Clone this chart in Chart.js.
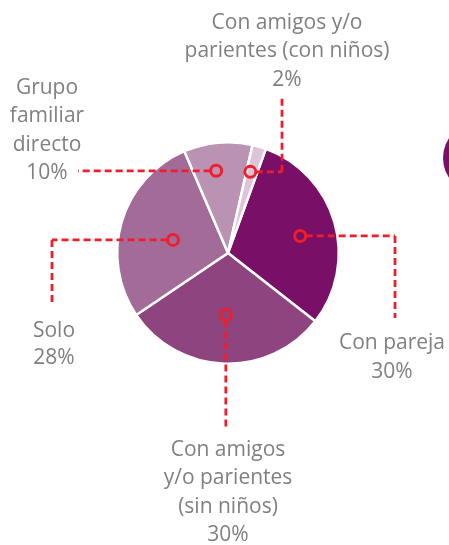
<!DOCTYPE html>
<html>
<head>
<meta charset="utf-8">
<script src="https://cdn.jsdelivr.net/npm/chart.js@4/dist/chart.umd.min.js"></script>
<style>
  html, body { margin: 0; padding: 0; background: #ffffff; }
  #wrap { position: relative; width: 449px; height: 545px; overflow: hidden; }
  #c { position: absolute; left: 0; top: 0; }
  /* fragment of a neighbouring graphic, cut off by the frame */
  #edge { position: absolute; left: 443px; top: 122px; width: 72px; height: 72px; border-radius: 50%; background: #7a0f67; }
</style>
</head>
<body>
<div id="wrap">
  <canvas id="c" width="449" height="545"></canvas>
  <div id="edge"></div>
</div>
<script>
// ---- data ----
const categories = [
  'Con pareja',
  'Con amigos y/o parientes (sin niños)',
  'Solo',
  'Grupo familiar directo',
  'Con amigos y/o parientes (con niños)'
];
const labelLines = [
  ['Con pareja'],
  ['Con amigos', 'y/o parientes', '(sin niños)'],
  ['Solo'],
  ['Grupo', 'familiar', 'directo'],
  ['Con amigos y/o', 'parientes (con niños)']
];
const values = [30, 30, 28, 10, 2];
const valueLabels = ['30%', '30%', '28%', '10%', '2%'];
const colors = ['#7a0f67', '#8d447f', '#a36b98', '#b992b4', '#dcc5d9'];

// ---- layout of callouts (positions, not data) ----
const callouts = [
  { frac: 0.67, dAng: 2.7, path: [['h', 395], ['v', 318]], tx: 392, ty: 343, lh: 29 },
  { frac: 0.56, dAng: 0,   path: [['v', 427]],             tx: 228, ty: 450, lh: 28.5 },
  { frac: 0.51, dAng: -3,  path: [['h', 52], ['v', 304]],  tx: 54,  ty: 331, lh: 27.5 },
  { frac: 0.75, dAng: -3,  path: [['h', 78]],              tx: 47,  ty: 88,  lh: 28.5 },
  { frac: 0.76, dAng: -1,  path: [['h', 282], ['v', 98]],  tx: 287, ty: 23,  lh: 28.5 }
];

const RED = '#ee1f2b';
const TEXT = '#808080';
const FONT = '400 21px "Open Sans", sans-serif';

const calloutPlugin = {
  id: 'callouts',
  afterDraw(chart) {
    const ctx = chart.ctx;
    const meta = chart.getDatasetMeta(0);
    meta.data.forEach((arc, i) => {
      const p = arc.getProps(['x', 'y', 'startAngle', 'endAngle', 'outerRadius'], true);
      const c = callouts[i];
      const ang = (p.startAngle + p.endAngle) / 2 + c.dAng * Math.PI / 180;
      const ax = p.x + Math.cos(ang) * p.outerRadius * c.frac;
      const ay = p.y + Math.sin(ang) * p.outerRadius * c.frac;
      const cr = 5.5;
      ctx.save();
      ctx.strokeStyle = RED;
      ctx.lineWidth = 2.8;
      // leader line
      ctx.setLineDash([7, 4]);
      ctx.beginPath();
      let x = ax, y = ay;
      c.path.forEach((seg, k) => {
        let sx = x, sy = y;
        if (k === 0) {
          if (seg[0] === 'h') sx += (seg[1] > x ? cr : -cr);
          else sy += (seg[1] > y ? cr : -cr);
        }
        if (seg[0] === 'h') { ctx.moveTo(sx, sy); x = seg[1]; ctx.lineTo(x, y); }
        else { ctx.moveTo(sx, sy); y = seg[1]; ctx.lineTo(x, y); }
      });
      ctx.stroke();
      // anchor ring
      ctx.setLineDash([]);
      ctx.lineWidth = 3;
      ctx.beginPath();
      ctx.arc(ax, ay, cr, 0, Math.PI * 2);
      ctx.stroke();
      // text
      ctx.fillStyle = TEXT;
      ctx.font = FONT;
      ctx.textAlign = 'center';
      ctx.textBaseline = 'middle';
      const lines = labelLines[i].concat([valueLabels[i]]);
      lines.forEach((t, k) => ctx.fillText(t, c.tx, c.ty + k * c.lh));
      ctx.restore();
    });
  }
};

new Chart(document.getElementById('c'), {
  type: 'pie',
  data: {
    labels: categories,
    datasets: [{
      data: values,
      backgroundColor: colors,
      borderColor: '#ffffff',
      borderWidth: 2.5,
      hoverOffset: 0,
      offset: 0
    }]
  },
  options: {
    responsive: false,
    animation: false,
    events: [],
    rotation: 20,
    layout: { padding: { left: 116, right: 109, top: 141, bottom: 180 } },
    plugins: { legend: { display: false }, tooltip: { enabled: false } }
  },
  plugins: [calloutPlugin]
});
</script>
</body>
</html>
